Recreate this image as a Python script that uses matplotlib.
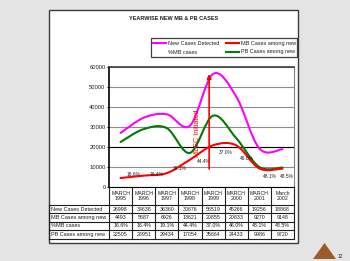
# plot.py
# Yearwise new MB & PB cases: smoothed lines with a data table underneath

import matplotlib
matplotlib.use('Agg')
import matplotlib.pyplot as plt
import numpy as np
from matplotlib.path import Path
from matplotlib.patches import PathPatch, Rectangle, Polygon
from matplotlib.lines import Line2D

plt.rcParams['font.family'] = ['Liberation Sans', 'DejaVu Sans']

# data
years = ['MARCH\n1995', 'MARCH\n1996', 'MARCH\n1997', 'MARCH\n1998',
         'MARCH\n1999', 'MARCH\n2000', 'MARCH\n2001', 'March\n2002']
new_cases = [26998, 34638, 36360, 30676, 56519, 45266, 19256, 18868]
mb_cases = [4493, 5687, 6926, 13621, 20855, 20833, 9270, 9148]
pct_mb = [16.6, 16.4, 19.1, 44.4, 37.0, 46.0, 48.1, 48.5]
pb_cases = [22505, 28951, 29434, 17054, 35664, 24433, 9986, 9720]
row_names = ['New Cases Detected', 'MB Cases among new', '%MB cases', 'PB Cases among new']
y_ticks = [0, 10000, 20000, 30000, 40000, 50000, 60000]

W, H = 350, 261
def fx(px):
    return px / W
def fy(py):
    return 1 - py / H

fig = plt.figure(figsize=(3.5, 2.61), dpi=100, facecolor='#e4e4e4')

# white slide panel
fig.add_artist(Rectangle((fx(49), fy(243)), (298 - 49) / W, (243 - 10) / H,
                         transform=fig.transFigure, facecolor='white',
                         edgecolor='#3c3c3c', lw=1.0, zorder=0))

fig.text(fx(174), fy(19), 'YEARWISE NEW MB & PB CASES', ha='center', va='center',
         fontsize=4.0, weight='bold', color='#202020')

# legend box (drawn by hand to sit like the original)
fig.add_artist(Rectangle((fx(151), fy(57)), (297 - 151) / W, (57 - 38) / H,
                         transform=fig.transFigure, facecolor='white',
                         edgecolor='#404040', lw=0.9))
leg_items = [(row_names[0], '#ff00ff', 153, 43), (row_names[1], '#ff0000', 226, 43),
             (row_names[2], None, 153, 52), (row_names[3], '#008000', 226, 52)]
for name, col, x0, yy in leg_items:
    if col is not None:
        fig.add_artist(Line2D([fx(x0), fx(x0 + 13)], [fy(yy), fy(yy)],
                              transform=fig.transFigure, color=col, lw=1.5))
    fig.text(fx(x0 + 15), fy(yy), name, ha='left', va='center',
             fontsize=4.0, color='#202020')

# chart area
ax = fig.add_axes([fx(109), fy(187), (294 - 109) / W, (187 - 67) / H])
ax.set_xlim(-0.5, 7.5)
ax.set_ylim(0, 60000)
ax.set_xticks([])
ax.set_yticks(y_ticks)
ax.set_yticklabels([str(v) for v in y_ticks], fontsize=4.2, color='#202020')
ax.tick_params(axis='y', length=1.5, width=0.8, pad=1)
ax.yaxis.grid(True, color='#8c8c8c', lw=0.8)
ax.axhline(20000, color='black', lw=0.8, zorder=1)
ax.set_axisbelow(True)
ax.spines['left'].set_linewidth(1.2)
ax.spines['left'].set_color('black')
ax.spines['top'].set_linewidth(1.2)
ax.spines['top'].set_color('#404040')
ax.spines['right'].set_linewidth(0.8)
ax.spines['right'].set_color('#808080')
ax.spines['bottom'].set_linewidth(0.8)


def smooth_path(xs, ys):
    # Excel-style smoothed line: Catmull-Rom segments as cubic Beziers
    pts = np.column_stack([xs, ys]).astype(float)
    n = len(pts)
    verts = [pts[0]]
    codes = [Path.MOVETO]
    for k in range(n - 1):
        p0 = pts[k - 1] if k > 0 else pts[k]
        p1 = pts[k]
        p2 = pts[k + 1]
        p3 = pts[k + 2] if k + 2 < n else pts[k + 1]
        verts += [p1 + (p2 - p0) / 6, p2 - (p3 - p1) / 6, p2]
        codes += [Path.CURVE4] * 3
    return Path(verts, codes)


xs = np.arange(len(years))
for series, col in [(new_cases, '#ff00ff'), (pb_cases, '#007a00'), (mb_cases, '#ff0000')]:
    ax.add_patch(PathPatch(smooth_path(xs, series), facecolor='none', edgecolor=col,
                           lw=1.5, capstyle='round', joinstyle='round', zorder=3))

# %MB labels, placed as on the slide
lab_dx = [0.55, 0.55, 0.53, 0.6, 0.56, 0.47, 0.45, 0.2]
lab_y = [6500, 6000, 9500, 12800, 17500, 14500, 5000, 5000]
for i, p in enumerate(pct_mb):
    ax.text(i + lab_dx[i], lab_y[i], '%.1f%%' % p, ha='center', va='center',
            fontsize=3.5, color='#202020', zorder=4)

# MLEC arrow
ax.annotate('', xy=(3.83, 56500), xytext=(3.83, 9000),
            arrowprops=dict(arrowstyle='-|>', color='red', lw=1.2,
                            mutation_scale=6, shrinkA=0, shrinkB=0), zorder=5)
ax.text(3.32, 27000, 'MLEC Initiated', rotation=90, color='red', fontsize=5.2,
        ha='center', va='center', zorder=5)

# data table under the chart
col_w = (294 - 109) / len(years)
col_edges = [109 + col_w * k for k in range(len(years) + 1)]
row_edges = [205, 213.3, 221.7, 230, 238.5]
tcol = '#202020'
for x in col_edges:
    fig.add_artist(Line2D([fx(x), fx(x)], [fy(187), fy(row_edges[-1])],
                          transform=fig.transFigure, color=tcol, lw=0.8))
fig.add_artist(Line2D([fx(49), fx(49)], [fy(row_edges[0]), fy(row_edges[-1])],
                      transform=fig.transFigure, color=tcol, lw=0.8))
for y in row_edges:
    fig.add_artist(Line2D([fx(49), fx(294)], [fy(y), fy(y)],
                          transform=fig.transFigure, color=tcol, lw=0.8))

for k, yr in enumerate(years):
    cx = col_edges[k] + col_w / 2
    fig.text(fx(cx), fy(196), yr, ha='center', va='center', fontsize=3.8,
             color=tcol, linespacing=1.2)

rows = [[str(v) for v in new_cases], [str(v) for v in mb_cases],
        ['%.1f%%' % v for v in pct_mb], [str(v) for v in pb_cases]]
for r, (name, vals) in enumerate(zip(row_names, rows)):
    cy = (row_edges[r] + row_edges[r + 1]) / 2
    fig.text(fx(51), fy(cy), name, ha='left', va='center', fontsize=4.0, color=tcol)
    for k, v in enumerate(vals):
        cx = col_edges[k] + col_w / 2
        fig.text(fx(cx), fy(cy), v, ha='center', va='center', fontsize=3.8, color=tcol)

# slide decoration: page marker
fig.add_artist(Polygon([(fx(313), fy(259)), (fx(336), fy(259)), (fx(324.5), fy(243))],
                       closed=True, transform=fig.transFigure,
                       facecolor='#9b5b2a', edgecolor='none'))
fig.text(fx(338), fy(256), '12', ha='left', va='center', fontsize=3.5, color='#202020')

fig.savefig('out.png', dpi=100, facecolor=fig.get_facecolor())
